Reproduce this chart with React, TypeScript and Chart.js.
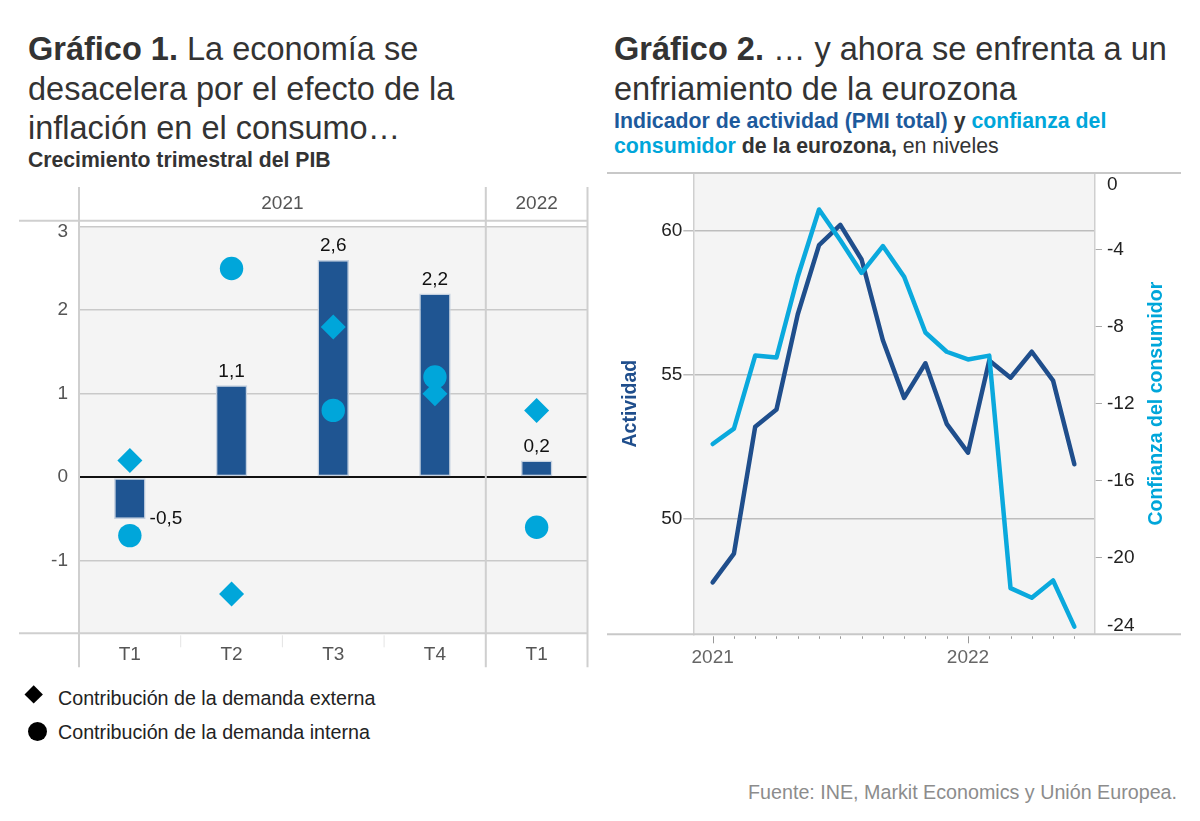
import React, { useEffect, useRef } from 'react';
import { Chart, registerables } from 'chart.js';

Chart.register(...registerables);

const FONT = '"Liberation Sans", Arial, Helvetica, sans-serif';
const BAR_NAVY = '#1f5592';
const MARK_CYAN = '#00a6da';
const LINE_NAVY = '#1f4e8c';
const LINE_CYAN = '#0aa9dd';
const TEXT_NAVY = '#1d5a9c';

// Gráfico 1: crecimiento trimestral del PIB y contribuciones
const quarterLabels = ['T1', 'T2', 'T3', 'T4', 'T1'];
const yearLabels = ['2021', '2022'];
const yearFirstQuarter = [0, 4];
const gdpGrowth = [-0.5, 1.1, 2.6, 2.2, 0.2];
const externalDemand = [0.2, -1.4, 1.8, 1.0, 0.8];
const internalDemand = [-0.7, 2.5, 0.8, 1.2, -0.6];
const gdpTicks = [-1, 0, 1, 2, 3];
const GDP_MIN = -1.87;
const GDP_MAX = 3;

// Gráfico 2: PMI compuesto y confianza del consumidor de la eurozona (mensual)
const months = [
  '2021-01', '2021-02', '2021-03', '2021-04', '2021-05', '2021-06',
  '2021-07', '2021-08', '2021-09', '2021-10', '2021-11', '2021-12',
  '2022-01', '2022-02', '2022-03', '2022-04', '2022-05', '2022-06',
];
const pmiTotal = [47.8, 48.8, 53.2, 53.8, 57.1, 59.5, 60.2, 59.0, 56.2, 54.2, 55.4, 53.3, 52.3, 55.5, 54.9, 55.8, 54.8, 51.9];
const consumerConfidence = [-14.1, -13.3, -9.5, -9.6, -5.4, -1.9, -3.5, -5.2, -3.8, -5.4, -8.3, -9.3, -9.7, -9.5, -21.6, -22.1, -21.2, -23.6];
const yearTickIndex = [0, 12];
const yearTickLabels = ['2021', '2022'];
const activityTicks = [50, 55, 60];
const confidenceTicks = [0, -4, -8, -12, -16, -20, -24];

const fmtComma = (v: number) => v.toFixed(1).replace('.', ',');

function line(ctx: CanvasRenderingContext2D, x0: number, y0: number, x1: number, y1: number) {
  ctx.beginPath();
  ctx.moveTo(x0, y0);
  ctx.lineTo(x1, y1);
  ctx.stroke();
}

const gdpDecor = {
  id: 'gdpDecor',
  beforeDraw(chart: any) {
    const { ctx, chartArea } = chart;
    ctx.save();
    ctx.fillStyle = '#f4f4f4';
    ctx.fillRect(chartArea.left, chartArea.top, chartArea.right - chartArea.left, chartArea.bottom - chartArea.top);
    ctx.restore();
  },
  beforeDatasetsDraw(chart: any) {
    const { ctx, chartArea } = chart;
    const x = chart.scales.x;
    const y = chart.scales.y;
    const half = (x.getPixelForValue(1) - x.getPixelForValue(0)) / 2;
    ctx.save();
    ctx.strokeStyle = '#cfcfcf';
    ctx.lineWidth = 2;
    line(ctx, 19, chartArea.top - 6, chartArea.right, chartArea.top - 6);
    line(ctx, 19, chartArea.bottom, chartArea.right, chartArea.bottom);
    const edges = [...yearFirstQuarter.map((i) => x.getPixelForValue(i) - half), chartArea.right];
    edges.forEach((ex) => line(ctx, ex, 7, ex, chartArea.bottom + 34));
    ctx.strokeStyle = '#e4e4e4';
    ctx.lineWidth = 1;
    quarterLabels.forEach((_, i) => {
      if (i > 0 && !yearFirstQuarter.includes(i)) {
        const ex = x.getPixelForValue(i) - half;
        line(ctx, ex, chartArea.bottom + 2, ex, chartArea.bottom + 14);
      }
    });
    ctx.fillStyle = '#555';
    ctx.font = `19px ${FONT}`;
    ctx.textAlign = 'center';
    ctx.textBaseline = 'middle';
    yearLabels.forEach((lab, k) => {
      ctx.fillText(lab, (edges[k] + edges[k + 1]) / 2, 24);
    });
    // top tick label sits just inside the plot edge
    ctx.textAlign = 'right';
    ctx.fillText(String(GDP_MAX), chartArea.left - 11, y.getPixelForValue(GDP_MAX) + 5);
    ctx.restore();
  },
  afterDatasetsDraw(chart: any) {
    const { ctx } = chart;
    const meta = chart.getDatasetMeta(2);
    ctx.save();
    ctx.fillStyle = '#111';
    ctx.font = `19px ${FONT}`;
    ctx.textBaseline = 'middle';
    meta.data.forEach((el: any, i: number) => {
      const v = gdpGrowth[i];
      if (v >= 0) {
        ctx.textAlign = 'center';
        ctx.fillText(fmtComma(v), el.x, el.y - 14);
      } else {
        ctx.textAlign = 'left';
        ctx.fillText(fmtComma(v), el.x + el.width / 2 + 4, el.y);
      }
    });
    ctx.restore();
  },
};

const euroDecor = {
  id: 'euroDecor',
  beforeDraw(chart: any) {
    const { ctx, chartArea } = chart;
    ctx.save();
    ctx.fillStyle = '#f4f4f4';
    ctx.fillRect(chartArea.left, chartArea.top, chartArea.right - chartArea.left, chartArea.bottom - chartArea.top);
    ctx.restore();
  },
  beforeDatasetsDraw(chart: any) {
    const { ctx, chartArea } = chart;
    const x = chart.scales.x;
    ctx.save();
    ctx.strokeStyle = '#c8c8c8';
    ctx.lineWidth = 2;
    line(ctx, 7, chartArea.top, 581, chartArea.top);
    line(ctx, 7, chartArea.bottom, 581, chartArea.bottom);
    ctx.strokeStyle = '#999';
    ctx.lineWidth = 1;
    months.forEach((_, i) => {
      const px = Math.round(x.getPixelForValue(i)) + 0.5;
      const len = yearTickIndex.includes(i) ? 7 : 2.5;
      line(ctx, px, chartArea.bottom + 2, px, chartArea.bottom + 2 + len);
    });
    ctx.restore();
  },
  afterDraw(chart: any) {
    const { ctx, chartArea } = chart;
    const y1 = chart.scales.y1;
    ctx.save();
    ctx.fillStyle = '#222';
    ctx.font = `19px ${FONT}`;
    ctx.textAlign = 'left';
    ctx.textBaseline = 'middle';
    confidenceTicks.forEach((v) => {
      let py = y1.getPixelForValue(v);
      py = Math.min(Math.max(py, chartArea.top + 12), chartArea.bottom - 9);
      ctx.fillText(String(v), chartArea.right + 12, py);
    });
    ctx.translate(557, (chartArea.top + chartArea.bottom) / 2);
    ctx.rotate(-Math.PI / 2);
    ctx.fillStyle = MARK_CYAN;
    ctx.font = `bold 19.5px ${FONT}`;
    ctx.textAlign = 'center';
    ctx.fillText('Confianza del consumidor', 0, 0);
    ctx.restore();
  },
};

function GdpChart() {
  const ref = useRef<HTMLCanvasElement>(null);
  useEffect(() => {
    if (!ref.current) return;
    const chart = new Chart(ref.current, {
      type: 'bar',
      data: {
        labels: quarterLabels,
        datasets: [
          {
            type: 'line',
            label: 'Contribución de la demanda externa',
            data: externalDemand,
            showLine: false,
            pointStyle: 'rectRot',
            pointRadius: 12.5,
            pointHoverRadius: 12.5,
            pointBackgroundColor: MARK_CYAN,
            pointBorderColor: MARK_CYAN,
            pointBorderWidth: 0,
            order: 1,
          } as any,
          {
            type: 'line',
            label: 'Contribución de la demanda interna',
            data: internalDemand,
            showLine: false,
            pointStyle: 'circle',
            pointRadius: 11.7,
            pointHoverRadius: 11.7,
            pointBackgroundColor: MARK_CYAN,
            pointBorderColor: MARK_CYAN,
            pointBorderWidth: 0,
            order: 2,
          } as any,
          {
            type: 'bar',
            label: 'Crecimiento trimestral del PIB',
            data: gdpGrowth,
            backgroundColor: BAR_NAVY,
            borderColor: '#c5d1e0',
            borderWidth: 1.5,
            borderSkipped: false,
            barPercentage: 0.31,
            categoryPercentage: 1,
            order: 3,
          } as any,
        ],
      },
      options: {
        animation: false,
        responsive: false,
        maintainAspectRatio: false,
        layout: { padding: { left: 0, right: 9, top: 46.7, bottom: 0 } },
        plugins: { legend: { display: false }, tooltip: { enabled: false } },
        scales: {
          x: {
            grid: { display: false, drawTicks: false },
            border: { display: false },
            ticks: { color: '#555', font: { family: FONT, size: 19 }, padding: 10 },
            afterFit: (s: any) => { s.height = 46.7; },
          },
          y: {
            min: GDP_MIN,
            max: GDP_MAX,
            afterBuildTicks: (s: any) => { s.ticks = gdpTicks.map((v) => ({ value: v })); },
            grid: {
              drawTicks: false,
              color: (c: any) => (c.tick && c.tick.value === 0 ? '#111' : '#c9c9c9'),
              lineWidth: (c: any) => (c.tick && c.tick.value === 0 ? 2 : 1.5),
            },
            border: { display: false },
            ticks: {
              color: '#555',
              font: { family: FONT, size: 19 },
              padding: 11,
              callback: (v: any) => (v === GDP_MAX ? '' : String(v)),
            },
            afterFit: (s: any) => { s.width = 79; },
          },
        },
      } as any,
      plugins: [gdpDecor],
    });
    return () => chart.destroy();
  }, []);
  return <canvas ref={ref} width={600} height={500} style={{ position: 'absolute', left: 0, top: 180, width: 600, height: 500 }} />;
}

function EuroChart() {
  const ref = useRef<HTMLCanvasElement>(null);
  useEffect(() => {
    if (!ref.current) return;
    const chart = new Chart(ref.current, {
      type: 'line',
      data: {
        datasets: [
          {
            label: 'Confianza del consumidor',
            data: consumerConfidence.map((v, i) => ({ x: i, y: v })),
            yAxisID: 'y1',
            borderColor: LINE_CYAN,
            borderWidth: 4.5,
            pointRadius: 0,
            tension: 0,
            borderJoinStyle: 'round',
            borderCapStyle: 'round',
          },
          {
            label: 'Indicador de actividad (PMI total)',
            data: pmiTotal.map((v, i) => ({ x: i, y: v })),
            yAxisID: 'y',
            borderColor: LINE_NAVY,
            borderWidth: 4.5,
            pointRadius: 0,
            tension: 0,
            borderJoinStyle: 'round',
            borderCapStyle: 'round',
          },
        ],
      },
      options: {
        animation: false,
        responsive: false,
        maintainAspectRatio: false,
        layout: { padding: { left: 0, right: 0, top: 13, bottom: 0 } },
        plugins: { legend: { display: false }, tooltip: { enabled: false } },
        scales: {
          x: {
            type: 'linear',
            min: -0.91,
            max: 17.97,
            afterBuildTicks: (s: any) => { s.ticks = months.map((_, i) => ({ value: i })); },
            ticks: {
              autoSkip: false,
              maxRotation: 0,
              color: '#666',
              font: { family: FONT, size: 19 },
              padding: 12.3,
              callback: (v: any) => {
                const k = yearTickIndex.indexOf(v);
                return k >= 0 ? yearTickLabels[k] : '';
              },
            },
            grid: { display: false, drawTicks: false },
            border: { display: false },
            afterFit: (s: any) => { s.height = 65.7; },
          },
          y: {
            position: 'left',
            min: 46,
            max: 62,
            afterBuildTicks: (s: any) => { s.ticks = activityTicks.map((v) => ({ value: v })); },
            ticks: { color: '#222', font: { family: FONT, size: 19 }, padding: 1 },
            grid: { color: '#bdbdbd', lineWidth: 1.5, tickLength: 10 },
            border: { display: true, color: '#cfcfcf', width: 1.5 },
            title: {
              display: true,
              text: 'Actividad',
              color: LINE_NAVY,
              font: { family: FONT, size: 19.5, weight: 'bold' },
              padding: { top: 19.3, bottom: 0 },
            },
            afterFit: (s: any) => { s.width = 93.3; },
          },
          y1: {
            position: 'right',
            min: -24,
            max: 0,
            afterBuildTicks: (s: any) => { s.ticks = confidenceTicks.map((v) => ({ value: v })); },
            ticks: { display: false },
            grid: {
              drawOnChartArea: false,
              tickLength: 7,
              lineWidth: 1,
              color: (c: any) => (c.tick && (c.tick.value === 0 || c.tick.value === -24) ? 'rgba(0,0,0,0)' : '#aaaaaa'),
            },
            border: { display: true, color: '#cfcfcf', width: 1.5 },
            afterFit: (s: any) => { s.width = 105; },
          },
        },
      } as any,
      plugins: [euroDecor],
    });
    return () => chart.destroy();
  }, []);
  return <canvas ref={ref} width={600} height={540} style={{ position: 'absolute', left: 600, top: 160, width: 600, height: 540 }} />;
}

export default function App() {
  const titleStyle: React.CSSProperties = {
    position: 'absolute',
    top: 30,
    fontSize: 32.5,
    lineHeight: '39.5px',
    color: '#333',
    whiteSpace: 'nowrap',
  };
  const legendText: React.CSSProperties = {
    position: 'absolute',
    left: 58,
    fontSize: 19.7,
    lineHeight: '24px',
    color: '#222',
    whiteSpace: 'nowrap',
  };
  return (
    <div style={{ position: 'fixed', left: 0, top: 0, width: 1200, height: 821, background: '#fff', fontFamily: FONT, overflow: 'hidden' }}>
      <div style={{ ...titleStyle, left: 28 }}>
        <b>Gráfico 1.</b> La economía se<br />desacelera por el efecto de la<br />inflación en el consumo…
      </div>
      <div style={{ position: 'absolute', left: 28, top: 147.5, fontSize: 21.2, lineHeight: '24px', fontWeight: 'bold', color: '#333', whiteSpace: 'nowrap' }}>
        Crecimiento trimestral del PIB
      </div>

      <div style={{ ...titleStyle, left: 614 }}>
        <b>Gráfico 2.</b> … y ahora se enfrenta a un<br />enfriamiento de la eurozona
      </div>
      <div style={{ position: 'absolute', left: 614, top: 108.5, fontSize: 21.3, lineHeight: '25px', color: '#333', whiteSpace: 'nowrap' }}>
        <b style={{ color: TEXT_NAVY }}>Indicador de actividad (PMI total)</b> <b>y</b> <b style={{ color: MARK_CYAN }}>confianza del</b>
        <br />
        <b style={{ color: MARK_CYAN }}>consumidor</b> <b>de la eurozona,</b> en niveles
      </div>

      <GdpChart />
      <EuroChart />

      <div style={{ position: 'absolute', left: 27.3, top: 687.8, width: 13.4, height: 13.4, background: '#000', transform: 'rotate(45deg)' }} />
      <div style={{ ...legendText, top: 685.5 }}>Contribución de la demanda externa</div>
      <div style={{ position: 'absolute', left: 27.5, top: 722.2, width: 19, height: 19, borderRadius: '50%', background: '#000' }} />
      <div style={{ ...legendText, top: 720 }}>Contribución de la demanda interna</div>

      <div style={{ position: 'absolute', left: 500, width: 677, top: 780, textAlign: 'right', fontSize: 19.7, lineHeight: '24px', color: '#8c8c8c', whiteSpace: 'nowrap' }}>
        Fuente: INE, Markit Economics y Unión Europea.
      </div>
    </div>
  );
}
